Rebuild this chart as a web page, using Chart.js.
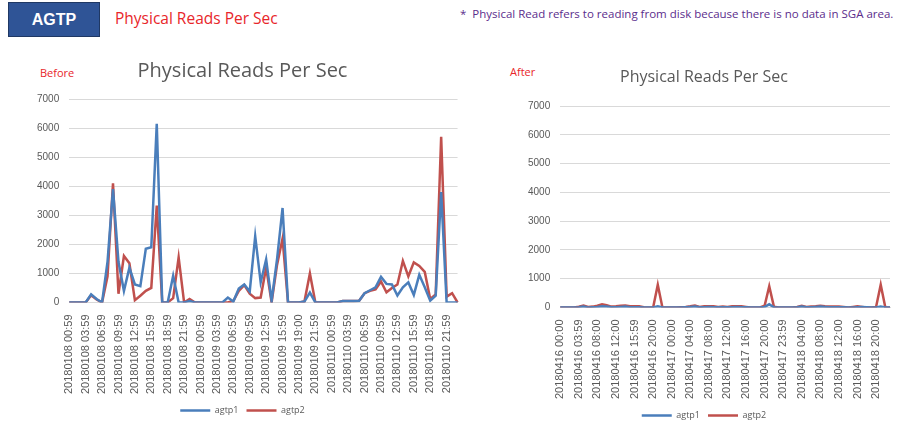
<!DOCTYPE html>
<html>
<head>
<meta charset="utf-8">
<script src="https://cdn.jsdelivr.net/npm/chart.js@4.4.0/dist/chart.umd.min.js"></script>
<style>
  body { margin: 0; background: #fff; width: 898px; height: 430px; position: relative; overflow: hidden; font-family: "Open Sans", "Noto Sans", sans-serif; }
  #badge { position: absolute; left: 8px; top: 2px; width: 90px; height: 33px; background: #2f5496; border: 1px solid #1f3864; color: #fff; font: bold 16px "Liberation Sans", Arial, sans-serif; line-height: 33px; text-align: center; }
  #head { position: absolute; left: 115px; top: 7px; color: #e8262a; font-size: 15.5px; }
  #note { position: absolute; left: 460px; top: 6px; color: #5b2d8c; font-size: 11.5px; white-space: nowrap; }
  .tag { position: absolute; color: #e8262a; font-size: 11px; }
  canvas { position: absolute; }
</style>
</head>
<body>
<div id="badge">AGTP</div>
<div id="head">Physical Reads Per Sec</div>
<div id="note">*&nbsp; Physical Read refers to reading from disk because there is no data in SGA area.</div>
<div class="tag" style="left:40px;top:65px;">Before</div>
<div class="tag" style="left:510px;top:64px;">After</div>
<canvas id="beforeChart" width="437" height="375" style="left:27px;top:50px;"></canvas>
<canvas id="afterChart" width="378" height="375" style="left:518px;top:55px;"></canvas>
<script>
// x axis labels (every 3rd hour on the left, every 4th hour on the right)
const beforeTicks = ['20180108 00:59', '20180108 03:59', '20180108 06:59', '20180108 09:59', '20180108 12:59', '20180108 15:59',
    '20180108 18:59', '20180108 21:59', '20180109 00:59', '20180109 03:59', '20180109 06:59', '20180109 09:59',
    '20180109 12:59', '20180109 15:59', '20180109 19:00', '20180109 21:59', '20180110 00:59', '20180110 03:59',
    '20180110 06:59', '20180110 09:59', '20180110 12:59', '20180110 15:59', '20180110 18:59', '20180110 21:59'];
const afterTicks = ['20180416 00:00', '20180416 03:59', '20180416 08:00', '20180416 12:00', '20180416 15:59', '20180416 20:00',
    '20180417 00:00', '20180417 04:00', '20180417 08:00', '20180417 12:00', '20180417 16:00', '20180417 20:00',
    '20180417 23:59', '20180418 04:00', '20180418 08:00', '20180418 12:00', '20180418 16:00', '20180418 20:00'];

// hourly samples
const beforeAgtp1 = [0, 0, 0, 0, 280, 120, 0, 1400, 3900, 1400, 400, 1200,
    620, 560, 1850, 1900, 6150, 0, 0, 920, 0, 0, 50, 0,
    0, 0, 0, 0, 0, 170, 30, 480, 620, 380, 2280, 690,
    1480, 60, 1500, 3250, 0, 0, 0, 30, 340, 0, 0, 0,
    0, 0, 50, 50, 50, 60, 320, 420, 520, 880, 640, 620,
    240, 520, 690, 260, 950, 520, 60, 230, 3800, 0, 0, 0];
const beforeAgtp2 = [0, 0, 0, 0, 250, 100, 0, 900, 4100, 300, 1600, 1350,
    80, 230, 400, 500, 3330, 0, 0, 150, 1550, 0, 120, 0,
    0, 0, 0, 0, 0, 0, 50, 400, 600, 300, 150, 170,
    1200, 0, 1300, 2200, 0, 0, 0, 30, 1000, 0, 0, 0,
    0, 0, 50, 50, 50, 60, 320, 400, 450, 720, 350, 500,
    620, 1430, 900, 1380, 1260, 1050, 120, 280, 5700, 200, 320, 0];

const afterAgtp1 = [0, 0, 0, 0, 10, 30, 0, 10, 20, 40, 30, 10,
    10, 20, 30, 10, 10, 10, 0, 0, 0, 40, 0, 0,
    0, 0, 0, 10, 20, 30, 10, 10, 20, 10, 10, 10,
    10, 10, 20, 10, 10, 0, 0, 0, 20, 110, 10, 0,
    0, 0, 0, 10, 30, 10, 10, 20, 30, 20, 10, 10,
    10, 10, 0, 0, 10, 20, 10, 0, 0, 30, 0, 0];
const afterAgtp2 = [0, 0, 0, 0, 30, 70, 20, 30, 60, 110, 80, 30,
    40, 60, 70, 40, 40, 40, 10, 0, 0, 790, 0, 0,
    0, 0, 10, 20, 40, 70, 20, 40, 40, 40, 20, 30,
    20, 40, 40, 40, 20, 0, 0, 0, 60, 740, 30, 0,
    0, 0, 0, 20, 60, 20, 30, 40, 60, 40, 30, 30,
    30, 20, 0, 20, 40, 20, 0, 0, 20, 790, 0, 0];

const beforeLabels = beforeTicks.flatMap(t => [t, '', '']);
const afterLabels = afterTicks.flatMap(t => [t, '', '', '']);

function makeOptions(titleSize, titlePad) {
    return {
        responsive: false,
        animation: false,
        layout: { padding: { left: 0, right: 6, top: 0, bottom: 0 } },
        plugins: {
            legend: {
                position: 'bottom',
                labels: {
                    usePointStyle: true,
                    pointStyle: 'line',
                    pointStyleWidth: 30,
                    color: '#595959',
                    font: { size: 9, family: 'Open Sans' },
                    padding: 8
                }
            },
            title: {
                display: true,
                text: 'Physical Reads Per Sec',
                color: '#595959',
                font: { size: titleSize, weight: 'normal', family: 'Open Sans' },
                padding: titlePad
            },
            tooltip: { enabled: false }
        },
        scales: {
            x: {
                offset: false,
                grid: { display: false },
                border: { color: '#d9d9d9' },
                ticks: {
                    autoSkip: false,
                    maxRotation: 90,
                    minRotation: 90,
                    color: '#595959',
                    font: { size: 11, family: 'Liberation Sans' },
                    padding: 4,
                    callback: function (v) {
                        let l = this.getLabelForValue(v);
                        return l === '' ? null : l;
                    }
                }
            },
            y: {
                min: 0,
                max: 7000,
                ticks: {
                    stepSize: 1000,
                    color: '#595959',
                    font: { size: 10, family: 'Liberation Sans' },
                    padding: 10,
                    callback: v => String(v)
                },
                grid: { color: '#d9d9d9', drawTicks: false },
                border: { display: false }
            }
        }
    };
}

let ctx = document.getElementById('beforeChart').getContext('2d');
let beforeChart = new Chart(ctx, {
    type: 'line',
    data: {
        labels: beforeLabels,
        datasets: [{
            label: 'agtp1',
            data: beforeAgtp1,
            borderColor: '#4a7ebb',
            borderWidth: 2.5,
            pointRadius: 0,
            tension: 0
        }, {
            label: 'agtp2',
            data: beforeAgtp2,
            borderColor: '#c0504d',
            borderWidth: 2.5,
            pointRadius: 0,
            tension: 0
        }]
    },
    options: makeOptions(20, { top: 9, bottom: 16 })
});

let ctx2 = document.getElementById('afterChart').getContext('2d');
let afterChart = new Chart(ctx2, {
    type: 'line',
    data: {
        labels: afterLabels,
        datasets: [{
            label: 'agtp1',
            data: afterAgtp1,
            borderColor: '#4a7ebb',
            borderWidth: 2.5,
            pointRadius: 0,
            tension: 0
        }, {
            label: 'agtp2',
            data: afterAgtp2,
            borderColor: '#c0504d',
            borderWidth: 2.5,
            pointRadius: 0,
            tension: 0
        }]
    },
    options: makeOptions(16, { top: 13, bottom: 19 })
});
</script>
</body>
</html>
